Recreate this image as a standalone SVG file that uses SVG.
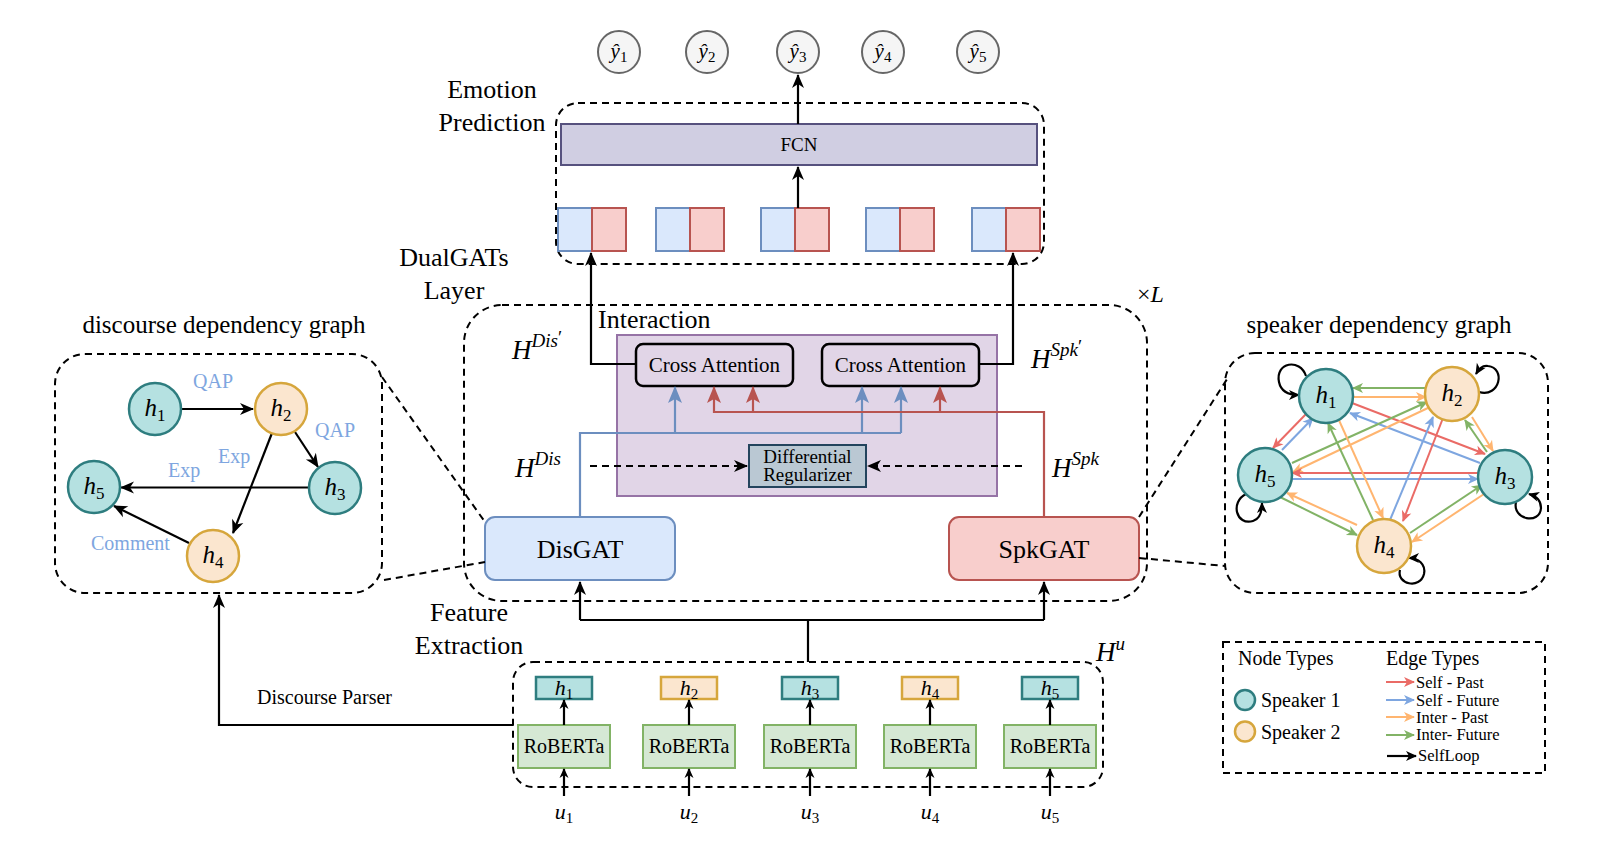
<svg xmlns="http://www.w3.org/2000/svg" width="1618" height="848" viewBox="0 0 1618 848">
<style>
.t{font-family:"Liberation Serif","DejaVu Serif",serif;fill:#000}
.i{font-style:italic}
.dash{fill:none;stroke:#000;stroke-width:2;stroke-dasharray:7 5}
.ln{fill:none;stroke:#000;stroke-width:2.2}
.bl{fill:none;stroke:#6c8ebf;stroke-width:2.2}
.rd{fill:none;stroke:#b85450;stroke-width:2.2}
.s1{fill:#b5e1e1;stroke:#2e7d7f;stroke-width:2.5}
.s2{fill:#fbe6cf;stroke:#d6a63c;stroke-width:2.5}
.yh{fill:#f5f5f5;stroke:#666;stroke-width:2}
.pb{fill:#dae8fc;stroke:#6c8ebf;stroke-width:2}
.pr{fill:#f8cecc;stroke:#b85450;stroke-width:2}
.rob{fill:#d5e8d4;stroke:#82b366;stroke-width:2}
.eR{fill:none;stroke:#ea6b66;stroke-width:2}
.eB{fill:none;stroke:#7ea6e0;stroke-width:2}
.eO{fill:none;stroke:#ffb570;stroke-width:2}
.eG{fill:none;stroke:#82b366;stroke-width:2}
.lbl{font-family:"Liberation Serif","DejaVu Serif",serif;fill:#7ea6e0;font-size:20px}
</style>
<defs>
<marker id="mk" markerUnits="userSpaceOnUse" markerWidth="14" markerHeight="12" refX="13" refY="6" orient="auto" overflow="visible"><path d="M0,0 L14,6 L0,12 L4,6 Z" fill="#000"/></marker>
<marker id="mks" markerUnits="userSpaceOnUse" markerWidth="10" markerHeight="9" refX="9" refY="4.5" orient="auto" overflow="visible"><path d="M0,0 L10,4.5 L0,9 L3,4.5 Z" fill="#000"/></marker>
<marker id="mB" markerUnits="userSpaceOnUse" markerWidth="17" markerHeight="14" refX="16" refY="7" orient="auto" overflow="visible"><path d="M0,0 L17,7 L0,14 L4,7 Z" fill="#6c8ebf"/></marker>
<marker id="mR" markerUnits="userSpaceOnUse" markerWidth="17" markerHeight="14" refX="16" refY="7" orient="auto" overflow="visible"><path d="M0,0 L17,7 L0,14 L4,7 Z" fill="#b85450"/></marker>
<marker id="sR" markerUnits="userSpaceOnUse" markerWidth="11" markerHeight="10" refX="10" refY="5" orient="auto" overflow="visible"><path d="M0,0 L11,5 L0,10 L3,5 Z" fill="#ea6b66"/></marker>
<marker id="sB" markerUnits="userSpaceOnUse" markerWidth="11" markerHeight="10" refX="10" refY="5" orient="auto" overflow="visible"><path d="M0,0 L11,5 L0,10 L3,5 Z" fill="#7ea6e0"/></marker>
<marker id="sO" markerUnits="userSpaceOnUse" markerWidth="11" markerHeight="10" refX="10" refY="5" orient="auto" overflow="visible"><path d="M0,0 L11,5 L0,10 L3,5 Z" fill="#ffb570"/></marker>
<marker id="sG" markerUnits="userSpaceOnUse" markerWidth="11" markerHeight="10" refX="10" refY="5" orient="auto" overflow="visible"><path d="M0,0 L11,5 L0,10 L3,5 Z" fill="#82b366"/></marker>
<marker id="sK" markerUnits="userSpaceOnUse" markerWidth="11" markerHeight="10" refX="10" refY="5" orient="auto" overflow="visible"><path d="M0,0 L11,5 L0,10 L3,5 Z" fill="#000"/></marker>
</defs>
<rect width="1618" height="848" fill="#fff"/>

<!-- containers / labels -->
<g id="emotion-prediction">
<rect class="dash" x="556" y="103" width="488" height="161" rx="22"/>
<text class="t" x="492" y="98" font-size="26" text-anchor="middle">Emotion</text>
<text class="t" x="492" y="131" font-size="26" text-anchor="middle">Prediction</text>
</g>
<g id="dualgats-layer">
<rect class="dash" x="464" y="305" width="683" height="296" rx="38"/>
<text class="t" x="454" y="266" font-size="26" text-anchor="middle">DualGATs</text>
<text class="t" x="454" y="299" font-size="26" text-anchor="middle">Layer</text>
<text class="t" x="1137" y="302" font-size="24">×<tspan class="i">L</tspan></text>
</g>
<g id="feature-extraction">
<rect class="dash" x="513" y="662" width="590" height="125" rx="20"/>
<text class="t" x="469" y="621" font-size="26" text-anchor="middle">Feature</text>
<text class="t" x="469" y="654" font-size="26" text-anchor="middle">Extraction</text>
<text class="t" x="1096" y="661" font-size="27"><tspan class="i">H</tspan><tspan class="i" font-size="19" dy="-11">u</tspan></text>
</g>

<!-- top nodes -->
<g id="yhat1"><circle class="yh" cx="619" cy="52" r="21"/><text class="t" x="619" y="58" font-size="21" text-anchor="middle"><tspan class="i">ŷ</tspan><tspan font-size="15" dy="4">1</tspan></text></g>
<g id="yhat2"><circle class="yh" cx="707" cy="52" r="21"/><text class="t" x="707" y="58" font-size="21" text-anchor="middle"><tspan class="i">ŷ</tspan><tspan font-size="15" dy="4">2</tspan></text></g>
<g id="yhat3"><circle class="yh" cx="798" cy="52" r="21"/><text class="t" x="798" y="58" font-size="21" text-anchor="middle"><tspan class="i">ŷ</tspan><tspan font-size="15" dy="4">3</tspan></text></g>
<g id="yhat4"><circle class="yh" cx="883" cy="52" r="21"/><text class="t" x="883" y="58" font-size="21" text-anchor="middle"><tspan class="i">ŷ</tspan><tspan font-size="15" dy="4">4</tspan></text></g>
<g id="yhat5"><circle class="yh" cx="978" cy="52" r="21"/><text class="t" x="978" y="58" font-size="21" text-anchor="middle"><tspan class="i">ŷ</tspan><tspan font-size="15" dy="4">5</tspan></text></g>

<g id="fcn"><rect x="561" y="124" width="476" height="41" fill="#d0cee2" stroke="#56517e" stroke-width="2"/><text class="t" x="799" y="151" font-size="19" text-anchor="middle">FCN</text></g>

<g id="pairs">
<rect class="pb" x="558" y="208" width="34" height="43"/><rect class="pr" x="592" y="208" width="34" height="43"/>
<rect class="pb" x="656" y="208" width="34" height="43"/><rect class="pr" x="690" y="208" width="34" height="43"/>
<rect class="pb" x="761" y="208" width="34" height="43"/><rect class="pr" x="795" y="208" width="34" height="43"/>
<rect class="pb" x="866" y="208" width="34" height="43"/><rect class="pr" x="900" y="208" width="34" height="43"/>
<rect class="pb" x="972" y="208" width="34" height="43"/><rect class="pr" x="1006" y="208" width="34" height="43"/>
</g>

<!-- interaction -->
<g id="interaction">
<rect x="617" y="335" width="380" height="161" fill="#e1d5e7" stroke="#9673a6" stroke-width="2"/>
<text class="t" x="598" y="328" font-size="26">Interaction</text>
</g>
<g id="cross-attention-1"><rect x="636" y="344" width="157" height="42" rx="7" fill="#e1d5e7" stroke="#000" stroke-width="2.5"/><text class="t" x="714.5" y="372" font-size="21" text-anchor="middle">Cross Attention</text></g>
<g id="cross-attention-2"><rect x="822" y="344" width="157" height="42" rx="7" fill="#e1d5e7" stroke="#000" stroke-width="2.5"/><text class="t" x="900.5" y="372" font-size="21" text-anchor="middle">Cross Attention</text></g>
<g id="diff-reg"><rect x="749" y="445" width="117" height="42" fill="#bac8d3" stroke="#23445d" stroke-width="2"/><text class="t" x="807.5" y="463" font-size="19" text-anchor="middle">Differential</text><text class="t" x="807.5" y="481" font-size="19" text-anchor="middle">Regularizer</text></g>
<g id="disgat"><rect x="485" y="517" width="190" height="63" rx="10" fill="#dae8fc" stroke="#6c8ebf" stroke-width="2"/><text class="t" x="580" y="558" font-size="26" text-anchor="middle">DisGAT</text></g>
<g id="spkgat"><rect x="949" y="517" width="190" height="63" rx="10" fill="#f8cecc" stroke="#b85450" stroke-width="2"/><text class="t" x="1044" y="558" font-size="26" text-anchor="middle">SpkGAT</text></g>

<g id="h-labels">
<text class="t" x="512" y="359" font-size="27"><tspan class="i">H</tspan><tspan class="i" font-size="19" dy="-12">Dis</tspan><tspan font-size="19" dy="-3">′</tspan></text>
<text class="t" x="1031" y="368" font-size="27"><tspan class="i">H</tspan><tspan class="i" font-size="19" dy="-12">Spk</tspan><tspan font-size="19" dy="-3">′</tspan></text>
<text class="t" x="515" y="477" font-size="27"><tspan class="i">H</tspan><tspan class="i" font-size="19" dy="-12">Dis</tspan></text>
<text class="t" x="1052" y="477" font-size="27"><tspan class="i">H</tspan><tspan class="i" font-size="19" dy="-12">Spk</tspan></text>
</g>

<!-- feature extraction nodes -->
<g id="fe1"><rect class="s1" x="536" y="677" width="56" height="22" stroke-width="2"/><text class="t" x="564" y="695" font-size="22" text-anchor="middle"><tspan class="i">h</tspan><tspan font-size="15" dy="4">1</tspan></text><rect class="rob" x="518" y="725" width="92" height="43"/><text class="t" x="564" y="753" font-size="20" text-anchor="middle">RoBERTa</text><text class="t" x="564" y="819" font-size="22" text-anchor="middle"><tspan class="i">u</tspan><tspan font-size="15" dy="4">1</tspan></text></g>
<g id="fe2"><rect class="s2" x="661" y="677" width="56" height="22" stroke-width="2"/><text class="t" x="689" y="695" font-size="22" text-anchor="middle"><tspan class="i">h</tspan><tspan font-size="15" dy="4">2</tspan></text><rect class="rob" x="643" y="725" width="92" height="43"/><text class="t" x="689" y="753" font-size="20" text-anchor="middle">RoBERTa</text><text class="t" x="689" y="819" font-size="22" text-anchor="middle"><tspan class="i">u</tspan><tspan font-size="15" dy="4">2</tspan></text></g>
<g id="fe3"><rect class="s1" x="782" y="677" width="56" height="22" stroke-width="2"/><text class="t" x="810" y="695" font-size="22" text-anchor="middle"><tspan class="i">h</tspan><tspan font-size="15" dy="4">3</tspan></text><rect class="rob" x="764" y="725" width="92" height="43"/><text class="t" x="810" y="753" font-size="20" text-anchor="middle">RoBERTa</text><text class="t" x="810" y="819" font-size="22" text-anchor="middle"><tspan class="i">u</tspan><tspan font-size="15" dy="4">3</tspan></text></g>
<g id="fe4"><rect class="s2" x="902" y="677" width="56" height="22" stroke-width="2"/><text class="t" x="930" y="695" font-size="22" text-anchor="middle"><tspan class="i">h</tspan><tspan font-size="15" dy="4">4</tspan></text><rect class="rob" x="884" y="725" width="92" height="43"/><text class="t" x="930" y="753" font-size="20" text-anchor="middle">RoBERTa</text><text class="t" x="930" y="819" font-size="22" text-anchor="middle"><tspan class="i">u</tspan><tspan font-size="15" dy="4">4</tspan></text></g>
<g id="fe5"><rect class="s1" x="1022" y="677" width="56" height="22" stroke-width="2"/><text class="t" x="1050" y="695" font-size="22" text-anchor="middle"><tspan class="i">h</tspan><tspan font-size="15" dy="4">5</tspan></text><rect class="rob" x="1004" y="725" width="92" height="43"/><text class="t" x="1050" y="753" font-size="20" text-anchor="middle">RoBERTa</text><text class="t" x="1050" y="819" font-size="22" text-anchor="middle"><tspan class="i">u</tspan><tspan font-size="15" dy="4">5</tspan></text></g>

<!-- discourse graph -->
<g id="discourse-graph">
<text class="t" x="224" y="333" font-size="25" text-anchor="middle">discourse dependency graph</text>
<rect class="dash" x="55" y="354" width="327" height="239" rx="30"/>
<g id="disc-edges">
<path class="ln" d="M181,409 H253" marker-end="url(#mk)"/>
<path class="ln" d="M295,432 L318,467" marker-end="url(#mk)"/>
<path class="ln" d="M272,433 L233,533" marker-end="url(#mk)"/>
<path class="ln" d="M309,487.5 H121" marker-end="url(#mk)"/>
<path class="ln" d="M189,543 L114,506" marker-end="url(#mk)"/>
</g>
<text class="lbl" x="193" y="388">QAP</text>
<text class="lbl" x="315" y="437">QAP</text>
<text class="lbl" x="218" y="463">Exp</text>
<text class="lbl" x="168" y="477">Exp</text>
<text class="lbl" x="91" y="550">Comment</text>
<g id="d-h1"><circle class="s1" cx="155" cy="409" r="26"/><text class="t" x="155" y="416" font-size="25" text-anchor="middle"><tspan class="i">h</tspan><tspan font-size="17" dy="5">1</tspan></text></g>
<g id="d-h2"><circle class="s2" cx="281" cy="409" r="26"/><text class="t" x="281" y="416" font-size="25" text-anchor="middle"><tspan class="i">h</tspan><tspan font-size="17" dy="5">2</tspan></text></g>
<g id="d-h3"><circle class="s1" cx="335" cy="488" r="26"/><text class="t" x="335" y="495" font-size="25" text-anchor="middle"><tspan class="i">h</tspan><tspan font-size="17" dy="5">3</tspan></text></g>
<g id="d-h5"><circle class="s1" cx="94" cy="487" r="26"/><text class="t" x="94" y="494" font-size="25" text-anchor="middle"><tspan class="i">h</tspan><tspan font-size="17" dy="5">5</tspan></text></g>
<g id="d-h4"><circle class="s2" cx="213" cy="556" r="26"/><text class="t" x="213" y="563" font-size="25" text-anchor="middle"><tspan class="i">h</tspan><tspan font-size="17" dy="5">4</tspan></text></g>
</g>

<!-- speaker graph -->
<g id="speaker-graph">
<text class="t" x="1379" y="333" font-size="25" text-anchor="middle">speaker dependency graph</text>
<rect class="dash" x="1225" y="353" width="323" height="240" rx="30"/>
<g id="spk-edges">
<path class="eG" d="M1426,388 L1353,388" marker-end="url(#sG)"/>
<path class="eO" d="M1353,397 L1426,397" marker-end="url(#sO)"/>
<path class="eR" d="M1307,413 L1273,448" marker-end="url(#sR)"/>
<path class="eB" d="M1282,450 L1313,418" marker-end="url(#sB)"/>
<path class="eR" d="M1352,403 L1485,454" marker-end="url(#sR)"/>
<path class="eB" d="M1480,463 L1350,413" marker-end="url(#sB)"/>
<path class="eG" d="M1292,463 L1427,402" marker-end="url(#sG)"/>
<path class="eO" d="M1430,407 L1293,472" marker-end="url(#sO)"/>
<path class="eR" d="M1478,473 L1292,473" marker-end="url(#sR)"/>
<path class="eB" d="M1292,479 L1478,479" marker-end="url(#sB)"/>
<path class="eO" d="M1338,418 L1383,518" marker-end="url(#sO)"/>
<path class="eG" d="M1373,520 L1328,423" marker-end="url(#sG)"/>
<path class="eB" d="M1390,520 L1433,417" marker-end="url(#sB)"/>
<path class="eR" d="M1443,418 L1403,521" marker-end="url(#sR)"/>
<path class="eO" d="M1472,417 L1493,451" marker-end="url(#sO)"/>
<path class="eG" d="M1487,452 L1465,420" marker-end="url(#sG)"/>
<path class="eG" d="M1410,533 L1482,485" marker-end="url(#sG)"/>
<path class="eO" d="M1487,492 L1412,542" marker-end="url(#sO)"/>
<path class="eG" d="M1280,497 L1357,535" marker-end="url(#sG)"/>
<path class="eO" d="M1357,525 L1287,493" marker-end="url(#sO)"/>
<path class="ln" d="M1306,376 C1300,358 1275,362 1279,382 C1281,392 1290,395 1299,395" marker-end="url(#sK)"/>
<path class="ln" d="M1479,392 C1500,398 1506,368 1488,366 C1482,365 1479,369 1476,374" marker-end="url(#sK)"/>
<path class="ln" d="M1246,494 C1230,502 1236,526 1253,521 C1260,519 1262,512 1262,503" marker-end="url(#sK)"/>
<path class="ln" d="M1516,502 C1512,520 1540,525 1541,508 C1541,500 1536,496 1529,494" marker-end="url(#sK)"/>
<path class="ln" d="M1400,570 C1396,584 1420,590 1424,574 C1426,564 1418,558 1409,558" marker-end="url(#sK)"/>
</g>
<g id="s-h1"><circle class="s1" cx="1326" cy="396" r="27"/><text class="t" x="1326" y="403" font-size="25" text-anchor="middle"><tspan class="i">h</tspan><tspan font-size="17" dy="5">1</tspan></text></g>
<g id="s-h2"><circle class="s2" cx="1452" cy="394" r="27"/><text class="t" x="1452" y="401" font-size="25" text-anchor="middle"><tspan class="i">h</tspan><tspan font-size="17" dy="5">2</tspan></text></g>
<g id="s-h5"><circle class="s1" cx="1265" cy="475" r="27"/><text class="t" x="1265" y="482" font-size="25" text-anchor="middle"><tspan class="i">h</tspan><tspan font-size="17" dy="5">5</tspan></text></g>
<g id="s-h3"><circle class="s1" cx="1505" cy="477" r="27"/><text class="t" x="1505" y="484" font-size="25" text-anchor="middle"><tspan class="i">h</tspan><tspan font-size="17" dy="5">3</tspan></text></g>
<g id="s-h4"><circle class="s2" cx="1384" cy="546" r="27"/><text class="t" x="1384" y="553" font-size="25" text-anchor="middle"><tspan class="i">h</tspan><tspan font-size="17" dy="5">4</tspan></text></g>
</g>

<!-- legend -->
<g id="legend">
<rect class="dash" x="1223" y="642" width="322" height="131"/>
<text class="t" x="1238" y="665" font-size="20">Node Types</text>
<text class="t" x="1386" y="665" font-size="20">Edge Types</text>
<circle class="s1" cx="1245" cy="700" r="10"/>
<text class="t" x="1261" y="707" font-size="20">Speaker 1</text>
<circle class="s2" cx="1245" cy="731.5" r="10"/>
<text class="t" x="1261" y="739" font-size="20">Speaker 2</text>
<path class="eR" d="M1386,682 H1414" marker-end="url(#sR)"/>
<path class="eB" d="M1386,700 H1414" marker-end="url(#sB)"/>
<path class="eO" d="M1386,717 H1414" marker-end="url(#sO)"/>
<path class="eG" d="M1386,735 H1414" marker-end="url(#sG)"/>
<path class="ln" d="M1387,756 H1416" stroke-width="2" marker-end="url(#sK)"/>
<text class="t" x="1416" y="688" font-size="16.5">Self - Past</text>
<text class="t" x="1416" y="706" font-size="16.5">Self - Future</text>
<text class="t" x="1416" y="723" font-size="16.5">Inter - Past</text>
<text class="t" x="1416" y="740" font-size="16.5">Inter- Future</text>
<text class="t" x="1418" y="761" font-size="16.5">SelfLoop</text>
</g>

<!-- connectors -->
<g id="connectors">
<path class="ln" d="M798,124 V75" marker-end="url(#mk)"/>
<path class="ln" d="M798,208 V167" marker-end="url(#mk)"/>
<path class="ln" d="M636,364 H591 V253" marker-end="url(#mk)"/>
<path class="ln" d="M979,364 H1013 V253" marker-end="url(#mk)"/>
<path class="bl" d="M580,517 V433 H901"/>
<path class="bl" d="M675,433 V387" marker-end="url(#mB)"/>
<path class="bl" d="M862,433 V387" marker-end="url(#mB)"/>
<path class="bl" d="M901,433 V387" marker-end="url(#mB)"/>
<path class="rd" d="M1044,517 V412 H714 V387" marker-end="url(#mR)"/>
<path class="rd" d="M753,412 V387" marker-end="url(#mR)"/>
<path class="rd" d="M940,412 V387" marker-end="url(#mR)"/>
<path class="dash" d="M590,466 H747" marker-end="url(#mk)"/>
<path class="dash" d="M1022,466 H868" marker-end="url(#mk)"/>
<path class="ln" d="M808,662 V620 M580,620 H1044"/>
<path class="ln" d="M580,620 V582" marker-end="url(#mk)"/>
<path class="ln" d="M1044,620 V582" marker-end="url(#mk)"/>
<path class="ln" d="M564,725 V700" stroke-width="1.8" marker-end="url(#mks)"/>
<path class="ln" d="M689,725 V700" stroke-width="1.8" marker-end="url(#mks)"/>
<path class="ln" d="M810,725 V700" stroke-width="1.8" marker-end="url(#mks)"/>
<path class="ln" d="M930,725 V700" stroke-width="1.8" marker-end="url(#mks)"/>
<path class="ln" d="M1050,725 V700" stroke-width="1.8" marker-end="url(#mks)"/>
<path class="ln" d="M564,796 V769" stroke-width="1.8" marker-end="url(#mks)"/>
<path class="ln" d="M689,796 V769" stroke-width="1.8" marker-end="url(#mks)"/>
<path class="ln" d="M810,796 V769" stroke-width="1.8" marker-end="url(#mks)"/>
<path class="ln" d="M930,796 V769" stroke-width="1.8" marker-end="url(#mks)"/>
<path class="ln" d="M1050,796 V769" stroke-width="1.8" marker-end="url(#mks)"/>
<path class="ln" d="M513,725 H219 V595" marker-end="url(#mk)"/>
<text class="t" x="257" y="704" font-size="20">Discourse Parser</text>
<path class="dash" d="M382,377 L485,522" stroke-width="1.8"/>
<path class="dash" d="M384,580 L485,562" stroke-width="1.8"/>
<path class="dash" d="M1139,517 L1229,376" stroke-width="1.8"/>
<path class="dash" d="M1139,558 L1225,566" stroke-width="1.8"/>
</g>
</svg>
